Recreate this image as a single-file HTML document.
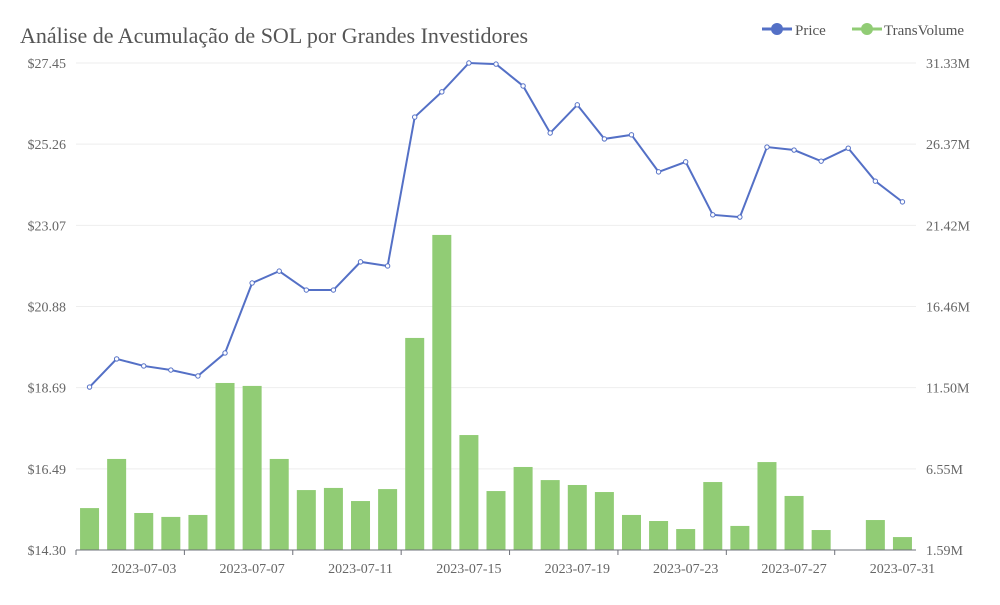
<!DOCTYPE html>
<html><head><meta charset="utf-8">
<style>
body{margin:0;background:#fff;}
svg text{font-family:"Liberation Serif",serif;}
</style></head>
<body>
<svg id="chart" width="1000" height="600">
<text x="20" y="43" font-size="22" fill="#555">Análise de Acumulação de SOL por Grandes Investidores</text>
<g>
<g>
<line x1="762" y1="29" x2="792" y2="29" stroke="#5470c6" stroke-width="3"/>
<circle cx="777" cy="29" r="6" fill="#5470c6"/>
<text x="795" y="35" font-size="15" fill="#555">Price</text>
</g>
<g>
<line x1="852" y1="29" x2="882" y2="29" stroke="#91cc75" stroke-width="3"/>
<circle cx="867" cy="29" r="6" fill="#91cc75"/>
<text x="884" y="35" font-size="15" fill="#555">TransVolume</text>
</g>
</g>
<g id="grid"></g><g id="bars"></g><g id="axes"></g><g id="line"></g>
</svg>
<script>
const categories=[];for(let d=1;d<=31;d++)categories.push('2023-07-'+String(d).padStart(2,'0'));
const priceValues=[18.70,19.46,19.27,19.16,19.00,19.62,21.51,21.83,21.32,21.32,22.08,21.97,25.99,26.67,27.45,27.42,26.83,25.56,26.32,25.40,25.51,24.51,24.78,23.35,23.29,25.18,25.10,24.80,25.15,24.26,23.70];
const volumeValues=[4.15,7.15,3.85,3.61,3.73,11.79,11.61,7.15,5.25,5.38,4.58,5.31,14.54,20.83,8.61,5.19,6.66,5.86,5.56,5.13,3.73,3.36,2.87,5.74,3.06,6.96,4.89,2.81,1.59,3.42,2.38];
const leftTicks=["$14.30","$16.49","$18.69","$20.88","$23.07","$25.26","$27.45"];
const rightTicks=["1.59M","6.55M","11.50M","16.46M","21.42M","26.37M","31.33M"];
const X0=76,X1=916,Y0=550,Y1=63,PMIN=14.30,PMAX=27.45,VMIN=1.59,VMAX=31.33;
const bw=(X1-X0)/categories.length;
const xC=i=>X0+bw*(i+0.5);
const yP=v=>Y0-(v-PMIN)/(PMAX-PMIN)*(Y0-Y1);
const yV=v=>Y0-(v-VMIN)/(VMAX-VMIN)*(Y0-Y1);
const NS='http://www.w3.org/2000/svg';
function mk(t,a,p){const e=document.createElementNS(NS,t);for(const k in a)e.setAttribute(k,a[k]);p.appendChild(e);return e;}
const grid=document.getElementById('grid'),axes=document.getElementById('axes'),bars=document.getElementById('bars'),line=document.getElementById('line');
leftTicks.forEach((t,i)=>{
 const y=Y0-i*(Y0-Y1)/(leftTicks.length-1);
 if(i>0){const g=mk('line',{x1:X0,x2:X1,y1:y,y2:y,stroke:'#eeeeee'},grid);
 
 }
 const l=mk('text',{x:66,y:y+5,'text-anchor':'end','font-size':14,fill:'#666'},axes);l.textContent=t;
 
 
 const r=mk('text',{x:926,y:y+5,'font-size':14,fill:'#666'},axes);r.textContent=rightTicks[i];
 
 
});
volumeValues.forEach((v,i)=>{
 const y=yV(v);
 const b=mk('rect',{x:xC(i)-9.5,y:y,width:19,height:Y0-y,fill:'#91cc75'},bars);
 
 
});
const ax=mk('line',{x1:X0,x2:X1,y1:Y0,y2:Y0,stroke:'#6e7079'},axes);


for(let i=0;i<=categories.length;i+=4){
 const x=X0+bw*i;
 const tk=mk('line',{x1:x,x2:x,y1:Y0,y2:Y0+5,stroke:'#6e7079'},axes);
 
 
}
categories.forEach((c,i)=>{
 if(i%4!==2)return;
 const t=mk('text',{x:xC(i),y:573,'text-anchor':'middle','font-size':14,fill:'#666'},axes);t.textContent=c;
 
 
});
const pl=mk('polyline',{points:priceValues.map((v,i)=>xC(i)+','+yP(v)).join(' '),fill:'none',stroke:'#5470c6','stroke-width':2},line);


priceValues.forEach((v,i)=>{
 const p=mk('circle',{cx:xC(i),cy:yP(v),r:2.2,fill:'#fff',stroke:'#5470c6','stroke-width':1},line);
 
 
});
</script>
</body></html>
